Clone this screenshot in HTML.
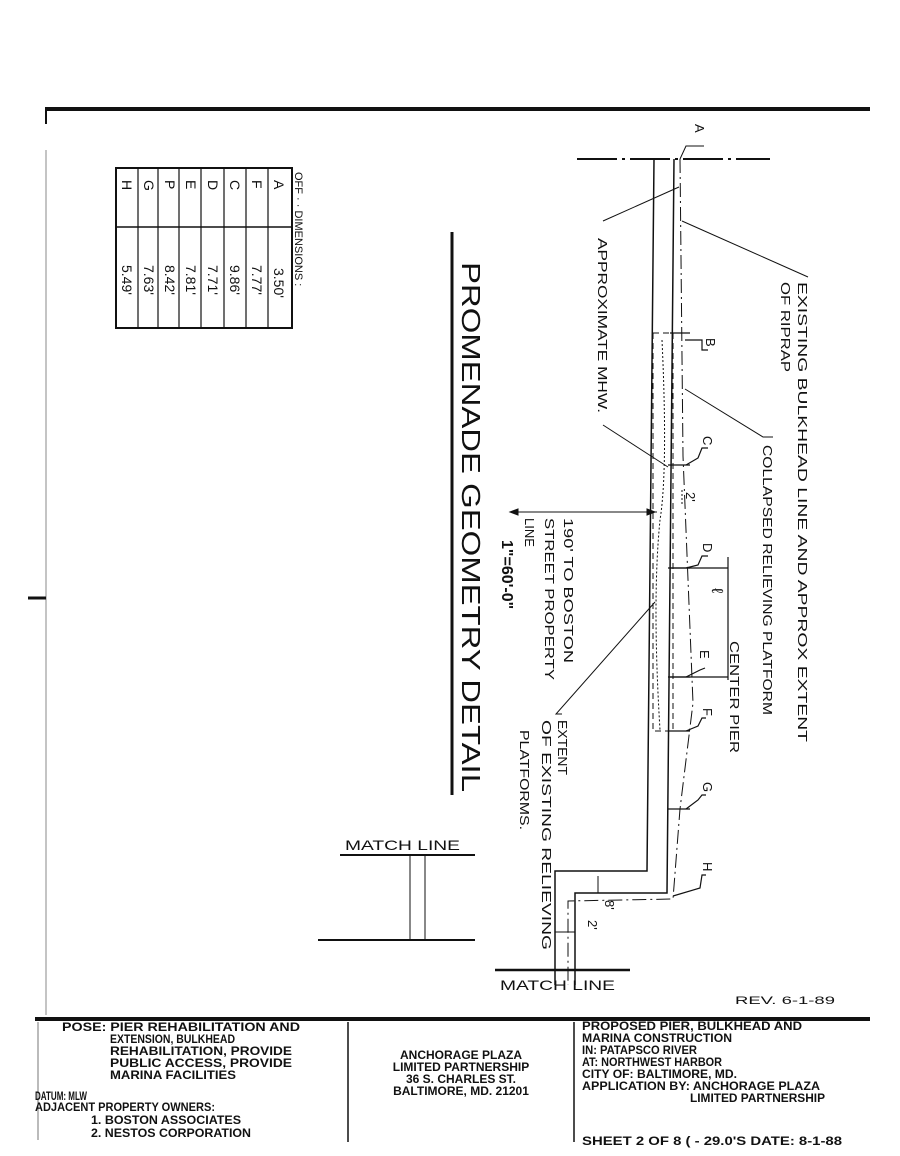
<!DOCTYPE html>
<html><head><meta charset="utf-8"><style>
html,body{margin:0;padding:0;background:#fff}
svg{display:block}
text{font-family:"Liberation Sans",sans-serif;fill:#111}
.b{font-weight:bold;font-size:12px}
</style></head><body>
<svg width="900" height="1156" viewBox="0 0 900 1156" xmlns="http://www.w3.org/2000/svg">
<g stroke="#111" fill="none">
<line x1="45" y1="109" x2="870" y2="109" stroke-width="4"/>
<line x1="46" y1="109" x2="46" y2="124" stroke-width="2"/>
<line x1="46" y1="150" x2="46" y2="1015" stroke-width="1" stroke="#888"/>
<line x1="28" y1="598" x2="46" y2="598" stroke-width="3"/>
<line x1="35" y1="1019" x2="870" y2="1019" stroke-width="4"/>
<line x1="348" y1="1022" x2="348" y2="1142" stroke-width="1.5"/>
<line x1="574" y1="1022" x2="574" y2="1142" stroke-width="1.5"/>
<line x1="38" y1="1022" x2="38" y2="1140" stroke-width="1" stroke="#777"/>
<!-- table -->
<rect x="116" y="168" width="176" height="160" stroke-width="2"/>
<line x1="116" y1="227" x2="292" y2="227" stroke-width="1.5"/>
<g stroke-width="1.2">
<line x1="138" y1="168" x2="138" y2="328"/><line x1="158" y1="168" x2="158" y2="328"/>
<line x1="179" y1="168" x2="179" y2="328"/><line x1="201" y1="168" x2="201" y2="328"/>
<line x1="224" y1="168" x2="224" y2="328"/><line x1="246" y1="168" x2="246" y2="328"/>
<line x1="268" y1="168" x2="268" y2="328"/>
</g>
<line x1="462" y1="232" x2="462" y2="795" stroke-width="3" visibility="hidden"/>
<line x1="452" y1="232" x2="452" y2="795" stroke-width="3"/>
<line x1="577" y1="159" x2="770" y2="159" stroke-width="2" stroke-dasharray="40,5,3,5"/>
<polyline points="680,159 686,146 704,146" stroke-width="1"/>
<polyline points="654,159 647,871 555,871 555,985" stroke-width="1.5"/>
<polyline points="674,159 667,893 575,893 575,985" stroke-width="1.5"/>
<polyline points="680,159 683,456 693,703 680,809 673,899 568,901 568,985" stroke-width="1" stroke-dasharray="14,4,2,4"/>
<rect x="653" y="333" width="20" height="398" stroke-width="1" stroke-dasharray="6,4"/>
<path d="M662 340 Q668 470 660 520 Q652 600 660 730" stroke-width="1" stroke-dasharray="2,2"/>
<g stroke-width="1.2">
<line x1="670" y1="333" x2="690" y2="333"/><polyline points="685,340 702,340 702,350 708,350"/>
<line x1="668" y1="465" x2="690" y2="465"/><polyline points="686,465 698,458 702,448 708,448"/>
<line x1="668" y1="568" x2="690" y2="568"/><polyline points="686,568 698,565 702,556 708,556"/>
<line x1="668" y1="677" x2="690" y2="677"/><polyline points="686,677 700,670 705,668"/>
<line x1="668" y1="731" x2="690" y2="731"/><polyline points="686,731 698,726 702,718 706,718"/>
<line x1="668" y1="809" x2="690" y2="809"/><polyline points="686,809 698,800 702,795 706,795"/>
<polyline points="673,896 700,888 702,875 706,875"/>
<line x1="670" y1="568" x2="728" y2="568"/><line x1="670" y1="677" x2="728" y2="677"/>
<line x1="728" y1="557" x2="728" y2="680"/>
</g>
<line x1="682" y1="490" x2="682" y2="505" stroke-width="1" stroke-dasharray="2,2"/>
<line x1="555" y1="932" x2="575" y2="932" stroke-width="1"/>
<line x1="598" y1="876" x2="598" y2="893" stroke-width="1"/>
<line x1="510" y1="512" x2="657" y2="512" stroke-width="1"/>
<polygon points="510,512 518,509 518,515" fill="#111"/>
<polygon points="655,512 647,509 647,515" fill="#111"/>
<g stroke-width="1">
<line x1="603" y1="221" x2="679" y2="187"/>
<line x1="603" y1="425" x2="668" y2="467"/>
<line x1="808" y1="277" x2="682" y2="221"/>
<polyline points="773,437 763,437 685,389"/>
<polyline points="562,714 556,714 655,602"/>
</g>
<line x1="495" y1="970" x2="630" y2="970" stroke-width="2.5"/>
<line x1="340" y1="855" x2="475" y2="855" stroke-width="2"/>
<line x1="410" y1="855" x2="410" y2="940" stroke-width="1"/>
<line x1="425" y1="855" x2="425" y2="940" stroke-width="1"/>
<line x1="318" y1="940" x2="475" y2="940" stroke-width="2"/>
</g>
<!-- table text -->
<g font-size="14">
<text transform="translate(295,172) rotate(90)" font-size="11">OFF · · DIMENSIONS :</text>
<text transform="translate(274,180) rotate(90)">A</text>
<text transform="translate(252,180) rotate(90)">F</text>
<text transform="translate(230,180) rotate(90)">C</text>
<text transform="translate(208,180) rotate(90)">D</text>
<text transform="translate(186,180) rotate(90)">E</text>
<text transform="translate(165,180) rotate(90)">P</text>
<text transform="translate(144,180) rotate(90)">G</text>
<text transform="translate(122,180) rotate(90)">H</text>
<text transform="translate(274,268) rotate(90)">3.50'</text>
<text transform="translate(252,265) rotate(90)">7.77'</text>
<text transform="translate(230,265) rotate(90)">9.86'</text>
<text transform="translate(208,265) rotate(90)">7.71'</text>
<text transform="translate(186,265) rotate(90)">7.81'</text>
<text transform="translate(165,265) rotate(90)">8.42'</text>
<text transform="translate(144,265) rotate(90)">7.63'</text>
<text transform="translate(122,265) rotate(90)">5.49'</text>
</g>
<text transform="translate(462,262) rotate(90)" font-size="26" textLength="530" lengthAdjust="spacingAndGlyphs">PROMENADE GEOMETRY DETAIL</text>
<text transform="translate(502,540) rotate(90)" font-size="16" font-weight="bold">1"=60'-0"</text>
<g font-size="13">
<text transform="translate(798,282) rotate(90)" textLength="460" lengthAdjust="spacingAndGlyphs">EXISTING BULKHEAD LINE  AND APPROX EXTENT</text>
<text transform="translate(781,282) rotate(90)" textLength="90" lengthAdjust="spacingAndGlyphs">OF RIPRAP</text>
<text transform="translate(763,445) rotate(90)" textLength="270" lengthAdjust="spacingAndGlyphs">COLLAPSED RELIEVING PLATFORM</text>
<text transform="translate(730,641) rotate(90)" textLength="112" lengthAdjust="spacingAndGlyphs">CENTER PIER</text>
<text transform="translate(598,238) rotate(90)" textLength="175" lengthAdjust="spacingAndGlyphs">APPROXIMATE MHW.</text>
<text transform="translate(564,518) rotate(90)" textLength="145" lengthAdjust="spacingAndGlyphs">190' TO BOSTON</text>
<text transform="translate(545,518) rotate(90)" textLength="162" lengthAdjust="spacingAndGlyphs">STREET PROPERTY</text>
<text transform="translate(525,518) rotate(90)">LINE</text>
<text transform="translate(558,720) rotate(90)" textLength="55" lengthAdjust="spacingAndGlyphs">EXTENT</text>
<text transform="translate(542,720) rotate(90)" textLength="230" lengthAdjust="spacingAndGlyphs">OF EXISTING RELIEVING</text>
<text transform="translate(520,730) rotate(90)" textLength="100" lengthAdjust="spacingAndGlyphs">PLATFORMS.</text>
<text transform="translate(695,124) rotate(90)">A</text>
<text transform="translate(706,338) rotate(90)">B</text>
<text transform="translate(703,436) rotate(90)">C</text>
<text transform="translate(686,492) rotate(90)">2'</text>
<text transform="translate(703,543) rotate(90)">D</text>
<text transform="translate(700,650) rotate(90)">E</text>
<text transform="translate(703,708) rotate(90)">F</text>
<text transform="translate(703,782) rotate(90)">G</text>
<text transform="translate(703,862) rotate(90)">H</text>
<text transform="translate(605,900) rotate(90)">8'</text>
<text transform="translate(588,920) rotate(90)">2'</text>
<text transform="translate(712,588) rotate(90)" font-size="16">ℓ</text>
</g>
<text x="345" y="850" font-size="14" textLength="115" lengthAdjust="spacingAndGlyphs">MATCH LINE</text>
<text x="500" y="990" font-size="14" textLength="115" lengthAdjust="spacingAndGlyphs">MATCH LINE</text>
<text x="735" y="1004" font-size="11" fill="#333" textLength="100" lengthAdjust="spacingAndGlyphs">REV. 6-1-89</text>
<g class="b">
<text x="62" y="1031" textLength="238" lengthAdjust="spacingAndGlyphs">POSE: PIER REHABILITATION AND</text>
<text x="110" y="1043" textLength="125" lengthAdjust="spacingAndGlyphs">EXTENSION, BULKHEAD</text>
<text x="110" y="1055" textLength="182" lengthAdjust="spacingAndGlyphs">REHABILITATION, PROVIDE</text>
<text x="110" y="1067" textLength="182" lengthAdjust="spacingAndGlyphs">PUBLIC ACCESS, PROVIDE</text>
<text x="110" y="1079" textLength="126" lengthAdjust="spacingAndGlyphs">MARINA FACILITIES</text>
<text x="35" y="1100" textLength="52" lengthAdjust="spacingAndGlyphs">DATUM: MLW</text>
<text x="35" y="1111" textLength="180" lengthAdjust="spacingAndGlyphs">ADJACENT PROPERTY OWNERS:</text>
<text x="91" y="1124" textLength="150" lengthAdjust="spacingAndGlyphs">1. BOSTON ASSOCIATES</text>
<text x="91" y="1137" textLength="160" lengthAdjust="spacingAndGlyphs">2. NESTOS CORPORATION</text>
<text x="461" y="1059" text-anchor="middle">ANCHORAGE PLAZA</text>
<text x="461" y="1071" text-anchor="middle">LIMITED PARTNERSHIP</text>
<text x="461" y="1083" text-anchor="middle">36 S. CHARLES ST.</text>
<text x="461" y="1095" text-anchor="middle">BALTIMORE, MD. 21201</text>
<text x="582" y="1030" textLength="220" lengthAdjust="spacingAndGlyphs">PROPOSED PIER, BULKHEAD AND</text>
<text x="582" y="1042" textLength="150" lengthAdjust="spacingAndGlyphs">MARINA CONSTRUCTION</text>
<text x="582" y="1054" textLength="115" lengthAdjust="spacingAndGlyphs">IN: PATAPSCO RIVER</text>
<text x="582" y="1066" textLength="140" lengthAdjust="spacingAndGlyphs">AT: NORTHWEST HARBOR</text>
<text x="582" y="1078" textLength="155" lengthAdjust="spacingAndGlyphs">CITY OF: BALTIMORE, MD.</text>
<text x="582" y="1090" textLength="238" lengthAdjust="spacingAndGlyphs">APPLICATION BY: ANCHORAGE PLAZA</text>
<text x="690" y="1102" textLength="135" lengthAdjust="spacingAndGlyphs">LIMITED PARTNERSHIP</text>
<text x="582" y="1145" textLength="260" lengthAdjust="spacingAndGlyphs">SHEET 2 OF 8  ( - 29.0'S  DATE: 8-1-88</text>
</g>
</svg>
</body></html>
